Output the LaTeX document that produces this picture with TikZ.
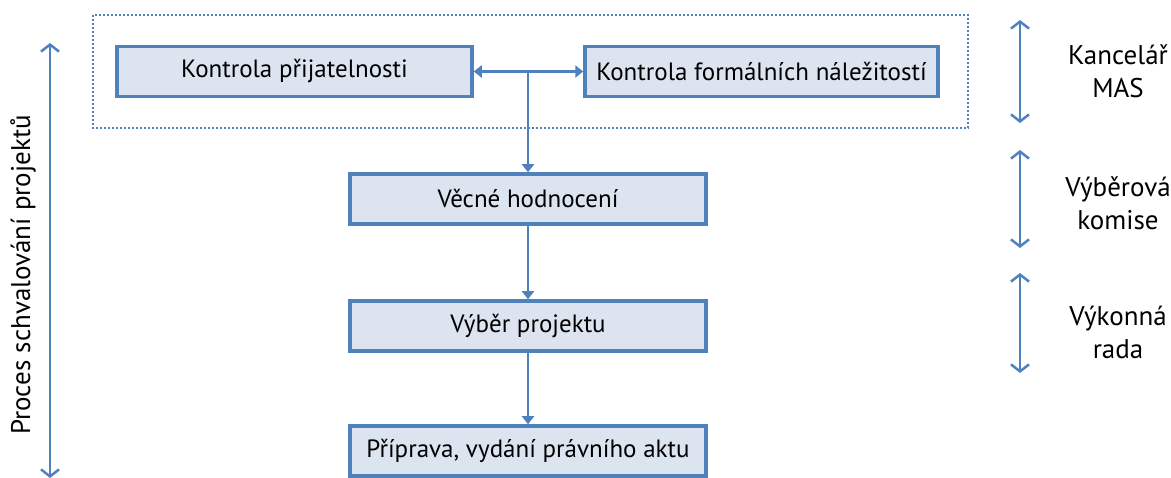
\documentclass[tikz,border=0pt]{standalone}
\usepackage{fontspec}
\setmainfont{PT Sans}
\usetikzlibrary{arrows.meta,positioning,calc}
\definecolor{bord}{HTML}{4F81BD}
\definecolor{boxfill}{HTML}{DCE4F0}
\begin{document}
\begin{tikzpicture}[x=1pt,y=-1pt,
  stepbox/.style={draw=bord,fill=boxfill,line width=3.5pt,minimum height=50pt,inner sep=0pt,font=\fontsize{25}{29}\selectfont},
  flow/.style={draw=bord,line width=2.5pt,-{Triangle[length=8pt,width=12pt]}},
  both/.style={draw=bord,line width=2.5pt,{Triangle[length=8pt,width=12pt]}-{Triangle[length=8pt,width=12pt]}},
  side/.style={draw=bord,line width=2.5pt,{Straight Barb[length=7pt,width=18pt,line width=2.5pt]}-{Straight Barb[length=7pt,width=18pt,line width=2.5pt]}},
  lab/.style={font=\fontsize{27}{33}\selectfont,align=center}]
\useasboundingbox (0,0) rectangle (1171,478);
\draw[bord,line width=2pt,dotted] (93,15) rectangle (968,128);
\node[stepbox,minimum width=355pt] (b1) at (294.5,71.5) {Kontrola přijatelnosti};
\node[stepbox,minimum width=353pt] (b2) at (761.5,71.5) {Kontrola formálních náležitostí};
\node[stepbox,minimum width=356pt] (b3) at (528,199) {Věcné hodnocení};
\node[stepbox,minimum width=356pt] (b4) at (528,326) {Výběr projektu};
\node[stepbox,minimum width=356pt] (b5) at (528,451) {Příprava, vydání právního aktu};
\coordinate (j) at (528,71.5);
\draw[both] (b1.east) -- (b2.west);
\draw[flow] (j) -- (b3.north);
\draw[flow] (b3.south) -- (b4.north);
\draw[flow] (b4.south) -- (b5.north);
\coordinate (l1) at (50,43);
\coordinate (l2) at (50,478);
\draw[side] (l1) -- (l2);
\node[lab,rotate=90] (proc) at (23,275) {Proces schvalování projektů};
\coordinate (r1a) at (1020,20); \coordinate (r1b) at (1020,123);
\coordinate (r2a) at (1020,150); \coordinate (r2b) at (1020,248);
\coordinate (r3a) at (1020,273); \coordinate (r3b) at (1020,373);
\draw[side] (r1a) -- (r1b);
\draw[side] (r2a) -- (r2b);
\draw[side] (r3a) -- (r3b);
\node[lab] (t1) at (1118,71) {Kancelář\\MAS};
\node[lab] (t2) at (1118,203) {Výběrová\\komise};
\node[lab] (t3) at (1118,332) {Výkonná\\rada};
\end{tikzpicture}
\end{document}
